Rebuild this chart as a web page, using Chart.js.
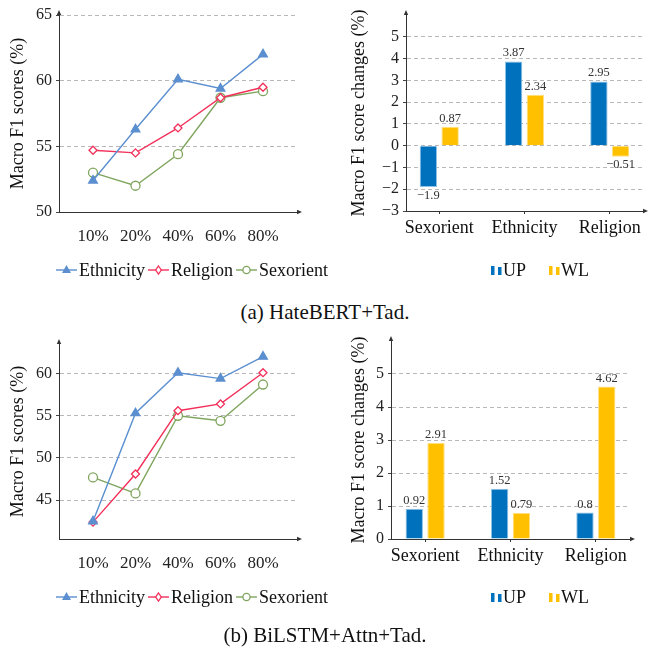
<!DOCTYPE html>
<html>
<head>
<meta charset="utf-8">
<script src="https://cdn.jsdelivr.net/npm/chart.js@4.4.1/dist/chart.umd.min.js"></script>
<style>
  body { margin: 0; background: #fff; }
  #fig { position: relative; width: 650px; height: 650px; background: #fff; }
  canvas { position: absolute; }
  .caption { position: absolute; left: 0; width: 650px; text-align: center;
             font-family: "Liberation Serif", "Times New Roman", serif; font-size: 21px;
             line-height: 21px; color: #111; }
</style>
</head>
<body>
<div id="fig">
  <canvas id="lineA" width="340" height="300" style="left:0;top:0"></canvas>
  <canvas id="barA" width="320" height="300" style="left:330px;top:0"></canvas>
  <div class="caption" style="top:302px">(a) HateBERT+Tad.</div>
  <canvas id="lineB" width="340" height="330" style="left:0;top:320px"></canvas>
  <canvas id="barB" width="320" height="330" style="left:330px;top:320px"></canvas>
  <div class="caption" style="top:625px">(b) BiLSTM+Attn+Tad.</div>
</div>
<script>
// x categories / names
const pctLabels = ['10%', '20%', '40%', '60%', '80%'];
const groupLabels = ['Sexorient', 'Ethnicity', 'Religion'];
const seriesNames = ['Ethnicity', 'Religion', 'Sexorient'];
const barNames = ['UP', 'WL'];

// (a) HateBERT+Tad.
const ethnicityA = [52.4, 56.3, 60.1, 59.4, 62.0];
const religionA = [54.7, 54.5, 56.4, 58.7, 59.5];
const sexorientA = [53.0, 52.0, 54.4, 58.7, 59.2];
const upA = [-1.9, 3.87, 2.95];
const wlA = [0.87, 2.34, -0.51];
const lineTicksA = [50, 55, 60, 65];
const barTicksA = [-3, -2, -1, 0, 1, 2, 3, 4, 5];

// (b) BiLSTM+Attn+Tad.
const ethnicityB = [42.5, 55.3, 60.1, 59.4, 62.0];
const religionB = [42.4, 48.1, 55.6, 56.4, 60.1];
const sexorientB = [47.7, 45.8, 55.0, 54.4, 58.7];
const upB = [0.92, 1.52, 0.8];
const wlB = [2.91, 0.79, 4.62];
const lineTicksB = [45, 50, 55, 60];
const barTicksB = [0, 1, 2, 3, 4, 5];

const FONT = '"Liberation Serif"';
const lineColors = ['#5B8FD0', '#F2305A', '#7FA55E'];
const markers = ['triangle', 'rectRot', 'circle'];
const markerSize = [5, 4, 4.5];
const barColors = ['#0072BD', '#FFC000'];
const barEdges = ['#8fc3ea', '#ffdf80'];

Chart.defaults.font.family = FONT;
Chart.defaults.color = '#222';
Chart.defaults.animation = false;

function fixedTicks(list) {
    return scale => { scale.ticks = list.map(v => ({ value: v })); };
}

function minus(v) {
    return String(v).replace('-', '\u2212');
}

// little marker shapes for the line legend
function drawMarker(ctx, k, x, y) {
    const r = markerSize[k];
    ctx.beginPath();
    if (k === 0) {
        ctx.moveTo(x, y - r);
        ctx.lineTo(x + r * 0.9, y + r * 0.6);
        ctx.lineTo(x - r * 0.9, y + r * 0.6);
        ctx.closePath();
        ctx.fillStyle = lineColors[k];
        ctx.fill();
    } else {
        if (k === 1) {
            ctx.moveTo(x, y - r); ctx.lineTo(x + r * 0.7, y);
            ctx.lineTo(x, y + r); ctx.lineTo(x - r * 0.7, y);
            ctx.closePath();
        } else {
            ctx.arc(x, y, r * 0.8, 0, Math.PI * 2);
        }
        ctx.fillStyle = '#fff';
        ctx.fill();
        ctx.strokeStyle = lineColors[k];
        ctx.lineWidth = 1.3;
        ctx.stroke();
    }
}

// pgfplots-like arrow heads at the end of both axes
const axisArrows = {
    id: 'axisArrows',
    afterDraw(chart) {
        const { ctx, chartArea: a } = chart;
        ctx.save();
        ctx.strokeStyle = '#333';
        ctx.fillStyle = '#333';
        ctx.lineWidth = 1;
        ctx.beginPath();
        ctx.moveTo(a.left, a.top); ctx.lineTo(a.left, a.top - 2);
        ctx.moveTo(a.right, a.bottom); ctx.lineTo(a.right + 2, a.bottom);
        ctx.stroke();
        ctx.beginPath();
        ctx.moveTo(a.left, a.top - 5);
        ctx.lineTo(a.left - 2.2, a.top);
        ctx.lineTo(a.left + 2.2, a.top);
        ctx.closePath();
        ctx.moveTo(a.right + 5, a.bottom);
        ctx.lineTo(a.right, a.bottom - 2.2);
        ctx.lineTo(a.right, a.bottom + 2.2);
        ctx.closePath();
        ctx.fill();
        ctx.restore();
    }
};

// legend: line piece with marker, then name
const lineLegend = {
    id: 'lineLegend',
    afterDraw(chart, args, opts) {
        const ctx = chart.ctx;
        ctx.save();
        ctx.font = '18px ' + FONT;
        ctx.textBaseline = 'middle';
        let x = opts.x;
        const y = opts.y;
        seriesNames.forEach((name, k) => {
            ctx.strokeStyle = lineColors[k];
            ctx.lineWidth = 1.4;
            ctx.beginPath();
            ctx.moveTo(x, y); ctx.lineTo(x + 21, y);
            ctx.stroke();
            drawMarker(ctx, k, x + 10.5, y);
            ctx.fillStyle = '#111';
            ctx.fillText(name, x + 23, y + 1);
            x += 23 + ctx.measureText(name).width + 3;
        });
        ctx.restore();
    }
};

// legend for the bars: small double-bar marker, then name
const barLegend = {
    id: 'barLegend',
    afterDraw(chart, args, opts) {
        const ctx = chart.ctx;
        ctx.save();
        ctx.font = '18px ' + FONT;
        ctx.textBaseline = 'middle';
        let x = opts.x;
        const y = opts.y;
        barNames.forEach((name, k) => {
            ctx.fillStyle = barColors[k];
            ctx.fillRect(x, y - 4, 3.5, 9);
            ctx.fillRect(x + 7, y - 3, 3.5, 8);
            ctx.fillStyle = '#111';
            ctx.fillText(name, x + 12, y + 1);
            x += 12 + ctx.measureText(name).width + 23;
        });
        ctx.restore();
    }
};

// numbers written on top of (or under) each bar
const barValues = {
    id: 'barValues',
    afterDatasetsDraw(chart) {
        const ctx = chart.ctx;
        ctx.save();
        ctx.font = '12.5px ' + FONT;
        ctx.fillStyle = '#333';
        ctx.textAlign = 'center';
        chart.data.datasets.forEach((ds, k) => {
            chart.getDatasetMeta(k).data.forEach((bar, i) => {
                const v = ds.data[i].y;
                if (v >= 0) {
                    ctx.textBaseline = 'bottom';
                    ctx.fillText(minus(v), bar.x, bar.y - 2);
                } else {
                    ctx.textBaseline = 'top';
                    ctx.fillText(minus(v), bar.x, bar.y + 2);
                }
            });
        });
        ctx.restore();
    }
};

function lineChart(id, series, ticks, yMin, yMax, box) {
    new Chart(document.getElementById(id), {
        type: 'line',
        data: {
            datasets: seriesNames.map((name, k) => ({
                label: name,
                data: series[k].map((v, i) => ({ x: i, y: v })),
                borderColor: lineColors[k],
                backgroundColor: k === 0 ? lineColors[k] : '#fff',
                pointBorderColor: lineColors[k],
                pointBackgroundColor: k === 0 ? lineColors[k] : '#fff',
                pointStyle: markers[k],
                pointRadius: markerSize[k],
                pointBorderWidth: 1.3,
                borderWidth: 1.4,
                tension: 0
            }))
        },
        options: {
            responsive: false,
            layout: { padding: box.padding },
            plugins: {
                legend: { display: false },
                tooltip: { enabled: false },
                lineLegend: { x: 56, y: box.legendY }
            },
            scales: {
                x: {
                    type: 'linear',
                    min: -0.8,
                    max: 4.8,
                    afterBuildTicks: fixedTicks(pctLabels.map((_, i) => i)),
                    afterFit: s => { s.height = 40; },
                    ticks: { callback: v => pctLabels[v], font: { size: 17 }, padding: 6, color: '#222', maxRotation: 0 },
                    grid: { display: false },
                    border: { color: '#333', width: 1 }
                },
                y: {
                    min: yMin,
                    max: yMax,
                    afterBuildTicks: fixedTicks(ticks),
                    afterFit: s => { s.width = 59; },
                    ticks: { font: { size: 16 }, padding: 4, color: '#222' },
                    grid: { color: '#b8b8b8', tickColor: '#444', tickLength: 3 },
                    border: { color: '#333', width: 1, dash: [4, 3] },
                    title: { display: true, text: 'Macro F1 scores (%)', font: { size: 18 }, color: '#111', padding: { top: 7, bottom: 0 } }
                }
            }
        },
        plugins: [axisArrows, lineLegend]
    });
}

function barChart(id, up, wl, ticks, yMin, yMax, box) {
    const xs = groupLabels.map((_, i) => i);
    new Chart(document.getElementById(id), {
        type: 'bar',
        data: {
            datasets: [up, wl].map((vals, k) => ({
                label: barNames[k],
                data: xs.map(i => ({ x: i, y: vals[i] })),
                backgroundColor: barColors[k],
                borderColor: barEdges[k],
                borderWidth: 1,
                categoryPercentage: 0.51,
                barPercentage: 0.8
            }))
        },
        options: {
            responsive: false,
            layout: { padding: box.padding },
            plugins: {
                legend: { display: false },
                tooltip: { enabled: false },
                barLegend: { x: 161, y: box.legendY }
            },
            scales: {
                x: {
                    type: 'linear',
                    min: box.xMin,
                    max: box.xMax,
                    offset: false,
                    afterBuildTicks: fixedTicks(xs),
                    afterFit: s => { s.height = 40; },
                    ticks: { callback: v => groupLabels[v], font: { size: 18 }, padding: 3, color: '#111', maxRotation: 0 },
                    grid: { offset: false, drawOnChartArea: false, color: 'rgba(0,0,0,0)', tickColor: '#333', tickLength: 3 },
                    border: { color: '#333', width: 1 }
                },
                y: {
                    min: yMin,
                    max: yMax,
                    afterBuildTicks: fixedTicks(ticks),
                    afterFit: s => { s.width = box.yWidth; },
                    ticks: { callback: v => minus(v), font: { size: 16 }, padding: 4, color: '#222' },
                    grid: { color: '#b8b8b8', tickColor: '#444', tickLength: 3 },
                    border: { color: '#333', width: 1, dash: [4, 3] },
                    title: { display: true, text: 'Macro F1 score changes (%)', font: { size: 18 }, color: '#111', padding: { top: 18, bottom: 0 } }
                }
            }
        },
        plugins: [axisArrows, barValues, barLegend]
    });
}

function drawAll() {
    lineChart('lineA', [ethnicityA, religionA, sexorientA], lineTicksA, 50, 65,
        { padding: { left: 0, right: 43, top: 15, bottom: 48 }, legendY: 270 });
    barChart('barA', upA, wlA, barTicksA, -3, 6,
        { padding: { left: 0, right: 7, top: 15, bottom: 49 }, yWidth: 76, xMin: -0.39, xMax: 2.39, legendY: 270 });
    lineChart('lineB', [ethnicityB, religionB, sexorientB], lineTicksB, 40.4, 63.5,
        { padding: { left: 0, right: 43, top: 24, bottom: 71 }, legendY: 277 });
    barChart('barB', upB, wlB, barTicksB, 0, 6,
        { padding: { left: 0, right: 20, top: 21, bottom: 71 }, yWidth: 61, xMin: -0.4, xMax: 2.4, legendY: 277 });
}

// make sure the serif face is ready before the canvases use it
document.fonts.load('16px "Liberation Serif"').then(drawAll, drawAll);
</script>
</body>
</html>
